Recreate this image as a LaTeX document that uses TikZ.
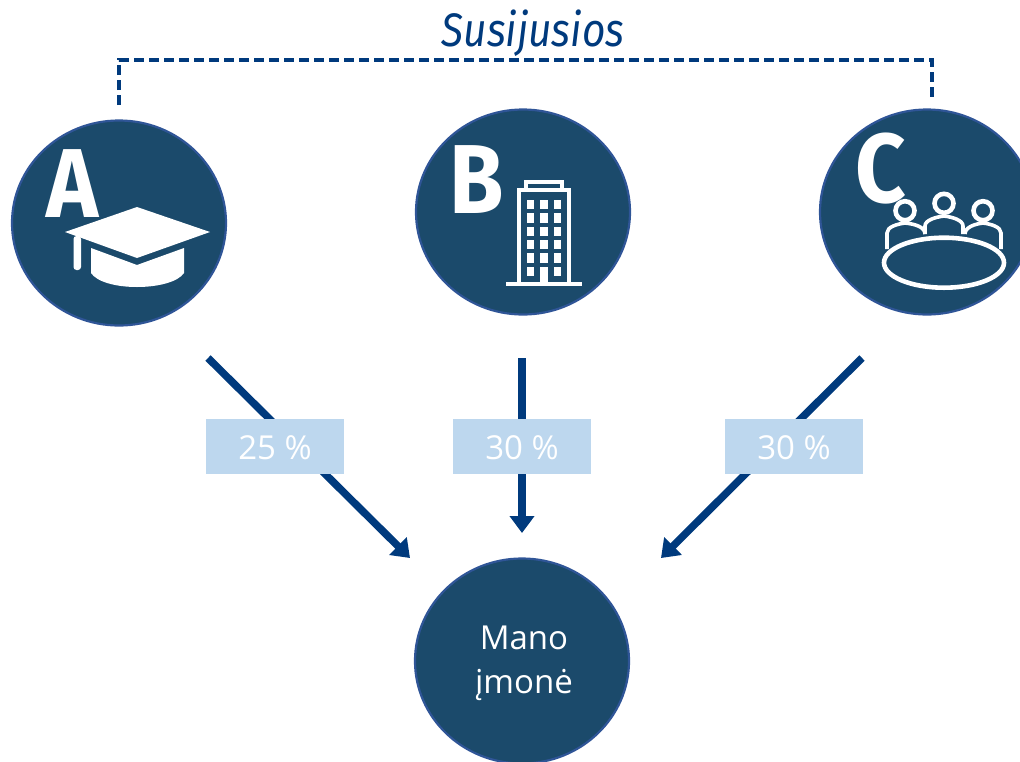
\documentclass[tikz,border=0pt]{standalone}
\usepackage{fontspec}
\setmainfont{Open Sans}
\newfontfamily\titlefont[FakeStretch=0.865]{Fira Sans}
\newfontfamily\letterfont[FakeStretch=0.9]{Fira Sans}
\usetikzlibrary{arrows.meta,shapes.geometric}
\definecolor{disc}{HTML}{1B4A6B}
\definecolor{discedge}{HTML}{2F5597}
\definecolor{navy}{HTML}{003A7D}
\definecolor{pale}{HTML}{BDD7EE}
\tikzset{
  x=1pt,y=-1pt,
  disc/.style={draw=discedge,line width=2.2pt,fill=disc,ellipse,minimum width=214pt,minimum height=205pt,inner sep=0pt},
  flow/.style={draw=navy,line width=7.5pt,-{Triangle[length=17pt,width=24pt]}},
  link/.style={draw=navy,line width=4.2pt,dash pattern=on 10pt off 5pt},
  pct/.style={fill=pale,text=white,minimum width=138pt,minimum height=55pt,inner sep=0pt,text height=25pt,text depth=0pt,font=\fontsize{33}{36}\selectfont},
  letter/.style={text=white,anchor=base,inner sep=0pt,font=\letterfont\bfseries\fontsize{98}{98}\selectfont},
  iconline/.style={draw=white,line width=4.6pt},
  iconthin/.style={draw=white,line width=3.6pt},
  iconfill/.style={fill=white,draw=none},
  inside/.style={text=white,align=center,inner sep=0pt,font=\fontsize{33}{44}\selectfont},
}
\begin{document}
\begin{tikzpicture}
\useasboundingbox (0,0) rectangle (1020,761);
\clip (0,0) rectangle (1020,761);
% discs
\node[disc] (a) at (119,223) {};
\node[disc] (b) at (523,212) {};
\node[disc] (c) at (927,212) {};
\node[disc] (d) at (522,661) {};
\node[inside] (dt) at (524,663) {Mano\\įmonė};
% dashed bracket
\coordinate (la) at (119,105);
\coordinate (lc) at (932,100);
\draw[link] (la) -- (119,60) -- (932,60) -- (lc);
\node[text=navy,anchor=base,inner sep=0pt,font=\titlefont\itshape\fontsize{47}{50}\selectfont] (t) at (533,46) {Susijusios};
% arrows
\coordinate (a1) at (208,358); \coordinate (a2) at (410,558);
\coordinate (b1) at (522,358); \coordinate (b2) at (522,533);
\coordinate (c1) at (862,358); \coordinate (c2) at (661,558);
\draw[flow] (a1) -- (a2);
\draw[flow] (b1) -- (b2);
\draw[flow] (c1) -- (c2);
\node[pct] (pa) at (275,446.5) {25 \%};
\node[pct] (pb) at (522,446.5) {30 \%};
\node[pct] (pc) at (794,446.5) {30 \%};
% letters
\node[letter] (la1) at (72.5,217) {A};
\node[letter] (lb1) at (477,213) {B};
\node[letter] (lc1) at (881,202) {C};
% cap
\fill[iconfill] (65,232) -- (137,207) -- (210,232) -- (137,258) -- cycle;
\fill[iconfill] (91,248) -- (137,265) -- (184,248) -- (184,273) .. controls (178,282) and (158,287) .. (137,287) .. controls (116,287) and (97,282) .. (91,273) -- cycle;
\fill[iconfill,rounded corners=3pt] (73.5,236) rectangle (81,270);
% building
\draw[iconline] (519,283) -- (519,190) -- (569,190) -- (569,283);
\draw[iconline] (526,190) -- (526,182) -- (562,182) -- (562,190);
\fill[iconfill] (506,281.5) rectangle (582,285.5);
\foreach \cx in {527,540.3,553.7}
  \foreach \cy in {200,213.3,226.7,240,253.3,266.7}
    \fill[iconfill] (\cx,\cy) rectangle ++(7.3,9.3);
\fill[iconfill] (540.3,270) rectangle (547.7,282);
% meeting table
\draw[iconline] (944,262.7) ellipse [x radius=60pt,y radius=25pt];
\draw[iconline] (905,210.7) circle [radius=9.5pt];
\draw[iconline] (944,203.3) circle [radius=9.5pt];
\draw[iconline] (983,210.7) circle [radius=9.5pt];
\draw[iconthin] (887,249) -- (887,233) .. controls (887,227) and (897,224) .. (905,223) .. controls (915,224) and (925,227) .. (925,234);
\draw[iconthin] (925,234) -- (925,226) .. controls (925,220) and (936,217) .. (944,216) .. controls (952,217) and (963,220) .. (963,226) -- (963,234);
\draw[iconthin] (965,234) .. controls (965,227) and (975,224) .. (983,223) .. controls (991,224) and (1001,227) .. (1001,233) -- (1001,249);
\end{tikzpicture}
\end{document}
